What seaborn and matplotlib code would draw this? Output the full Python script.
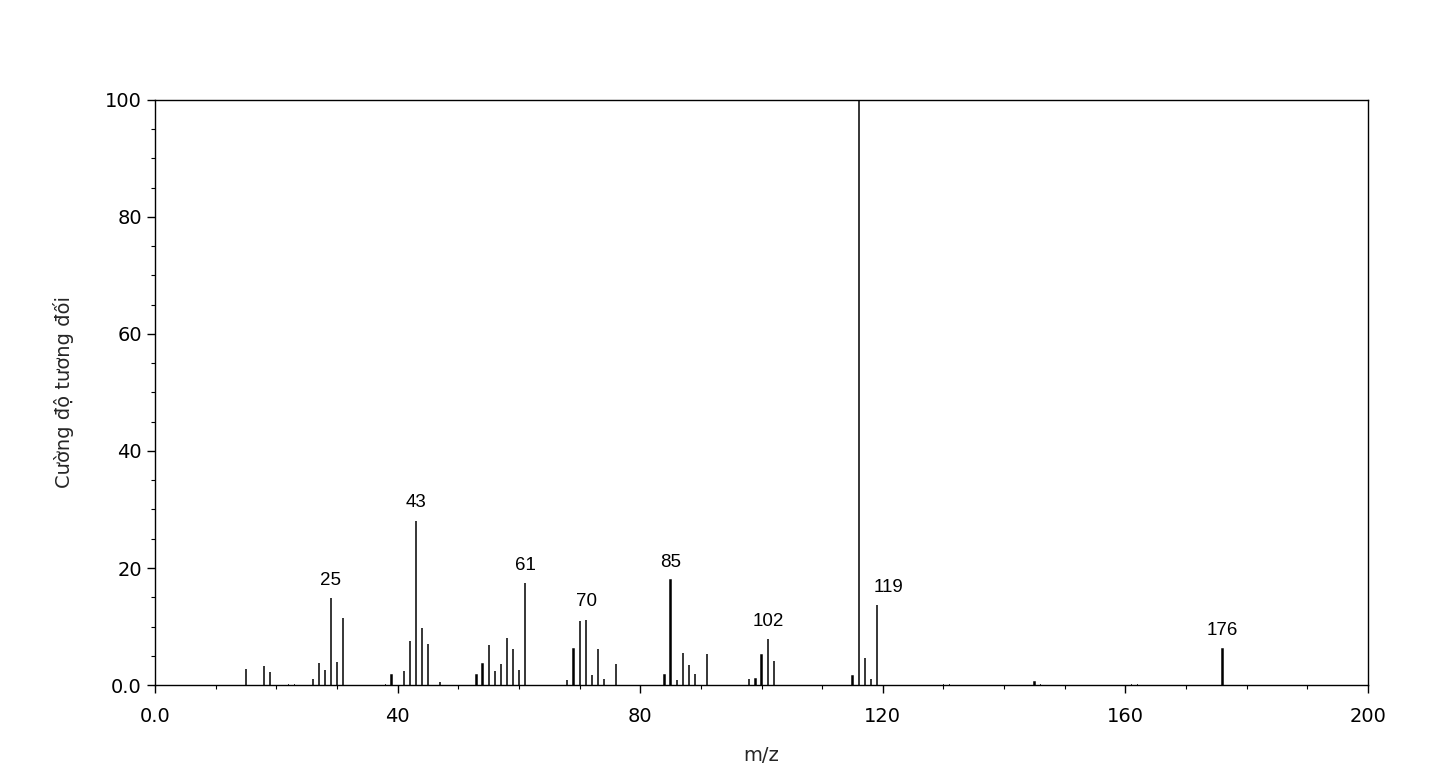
import matplotlib
matplotlib.use("Agg")
import matplotlib.pyplot as plt
import seaborn as sns
import pandas as pd
from matplotlib.ticker import MultipleLocator, FixedLocator

# ── data ────────────────────────────────────────────────────
mz = [15, 18, 19, 26, 27, 28, 29, 30, 31,
      39, 41, 42, 43, 44, 45, 47,
      53, 54, 55, 56, 57, 58, 59, 60, 61,
      68, 69, 70, 71, 72, 73, 74, 76,
      84, 85, 86, 87, 88, 89, 91,
      98, 99, 100, 101, 102,
      115, 116, 117, 118, 119, 145, 176]
intensity = [2.8, 3.2, 2.3, 1.0, 3.7, 2.6, 14.8, 3.9, 11.5,
             1.8, 2.4, 7.6, 28.0, 9.7, 7.0, 0.5,
             1.8, 3.6, 6.8, 2.4, 3.6, 8.1, 6.2, 2.6, 17.4,
             0.8, 6.1, 11.0, 11.2, 1.8, 6.1, 1.1, 3.6,
             1.8, 17.9, 0.8, 5.5, 3.4, 1.9, 5.3,
             1.0, 1.0, 5.2, 7.8, 4.1,
             1.5, 100.0, 4.7, 1.0, 13.6, 0.5, 6.2]

# peak labels as printed on the original (text, position, intensity)
label_text = ["25", "43", "61", "70", "85", "102", "119", "176"]
label_x = [29, 43, 61, 71.2, 85, 101.2, 121.0, 176]
label_y = [14.8, 28.0, 17.4, 11.2, 17.9, 7.8, 13.6, 6.2]

xticks = [0, 40, 80, 120, 160, 200]
xtick_labels = ["0.0", "40", "80", "120", "160", "200"]
yticks = [0, 20, 40, 60, 80, 100]
ytick_labels = ["0.0", "20", "40", "60", "80", "100"]

df = pd.DataFrame({"mz": mz, "intensity": intensity})

# ── plot ────────────────────────────────────────────────────
sns.set_theme(style="ticks")
plt.rcParams["font.family"] = ["DejaVu Sans"]

fig = plt.figure(figsize=(14.42, 7.68), dpi=100)
ax = fig.add_axes([0.1075, 0.108, 0.8412, 0.762])

# thin sticks: discrete bins shrunk almost to nothing, drawn by their edges
sns.histplot(data=df, x="mz", weights="intensity", discrete=True, shrink=0.02,
             color="black", edgecolor="black", linewidth=1.1, alpha=1.0, ax=ax)

for txt, x, y in zip(label_text, label_x, label_y):
    ax.annotate(txt, (x, y), xytext=(0, 7), textcoords="offset points",
                ha="center", va="bottom", fontsize=13.5, color="black",
                family=["Liberation Sans", "DejaVu Sans"])

ax.set_xlim(0, 200)
ax.set_ylim(0, 100)
ax.xaxis.set_major_locator(FixedLocator(xticks))
ax.set_xticklabels(xtick_labels)
ax.yaxis.set_major_locator(FixedLocator(yticks))
ax.set_yticklabels(ytick_labels)
ax.xaxis.set_minor_locator(MultipleLocator(10))
ax.yaxis.set_minor_locator(MultipleLocator(5))
ax.tick_params(axis="both", which="major", labelsize=14, length=6, width=1,
               color="black", labelcolor="black")
ax.tick_params(axis="both", which="minor", length=3, width=0.8, color="black")
ax.tick_params(axis="x", pad=10)

for side in ["top", "right", "left", "bottom"]:
    ax.spines[side].set_visible(True)
    ax.spines[side].set_color("black")
    ax.spines[side].set_linewidth(1.0)

ax.set_xlabel("m/z", fontsize=14, labelpad=14)
ax.set_ylabel("Cường độ tương đối", fontsize=14, labelpad=22)

fig.savefig("out.png", dpi=100, facecolor="white")
plt.close(fig)
